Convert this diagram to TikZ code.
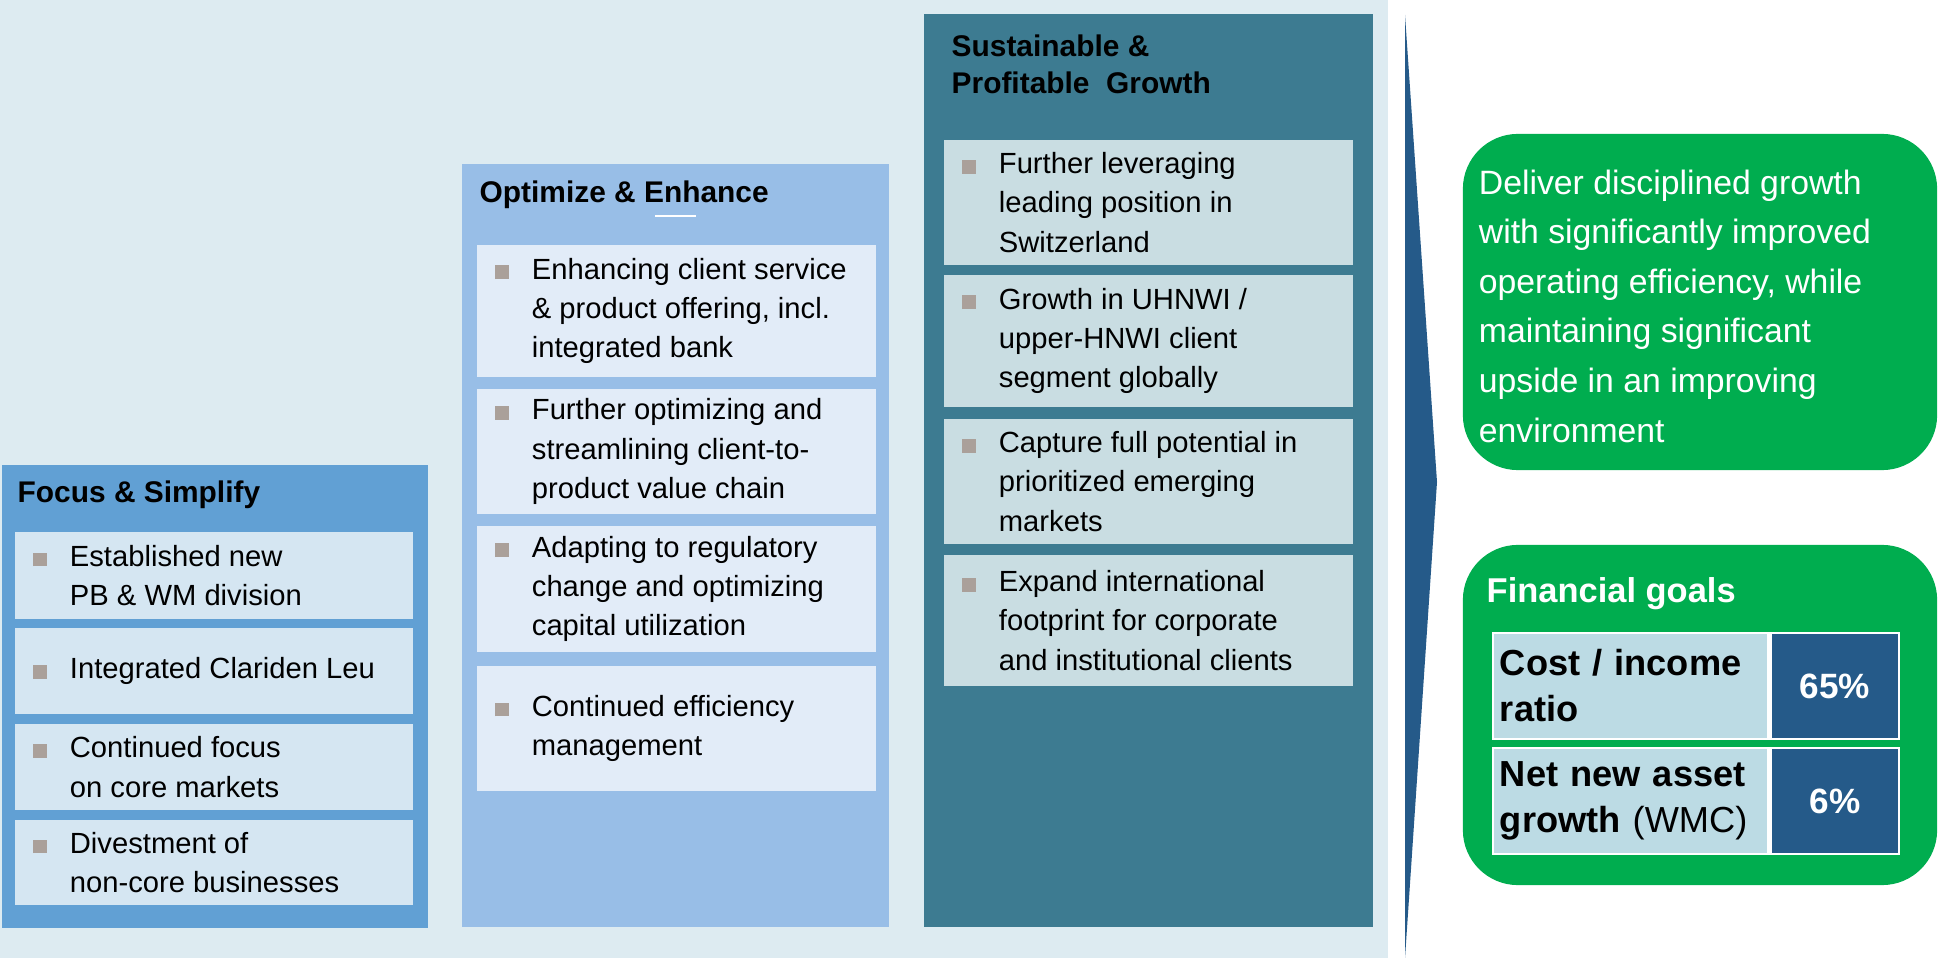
\documentclass[tikz,border=0pt]{standalone}
\usepackage{fontspec}
\setmainfont{Liberation Sans}
\usepackage{xcolor}
\usepackage{tikz}
\usetikzlibrary{positioning}
\definecolor{pagebg}{RGB}{221,235,241}
\definecolor{focusblue}{RGB}{97,160,212}
\definecolor{focusitem}{RGB}{213,230,242}
\definecolor{optblue}{RGB}{152,190,231}
\definecolor{optitem}{RGB}{226,236,248}
\definecolor{growthteal}{RGB}{61,123,145}
\definecolor{growthitem}{RGB}{201,221,226}
\definecolor{bulletgray}{RGB}{170,160,154}
\definecolor{wedgeblue}{RGB}{37,90,137}
\definecolor{goalgreen}{RGB}{0,173,79}
\definecolor{cellblue}{RGB}{188,219,228}
\newcommand{\sqbullet}{\llap{\textcolor{bulletgray}{\rule{0.47em}{0.47em}}\hspace{0.8em}}}

\begin{document}
\begin{tikzpicture}[
    x=0.01cm, y=-0.01cm,
    panel/.style={rectangle, inner sep=0pt},
    paneltitle/.style={inner sep=0pt, align=left, font=\fontsize{8.5}{10.6}\selectfont\bfseries},
    itembox/.style={rectangle, inner sep=0pt},
    itemtext/.style={inner sep=0pt, align=left, font=\fontsize{8.3}{11.2}\selectfont},
    goalbox/.style={rectangle, rounded corners=0.55cm, fill=goalgreen, minimum width=4.74cm, inner sep=0pt},
    goaltext/.style={inner sep=0pt, align=left, text=white, font=\fontsize{9.6}{14.1}\selectfont},
    namecell/.style={rectangle, draw=white, line width=0.8pt, fill=cellblue, minimum width=2.75cm, minimum height=1.06cm, inner xsep=0.07cm, text width=2.61cm, align=left, font=\fontsize{10.3}{13.1}\selectfont\bfseries},
    valuecell/.style={rectangle, draw=white, line width=0.8pt, fill=wedgeblue, minimum width=1.28cm, minimum height=1.06cm, text=white, font=\fontsize{10}{12}\selectfont\bfseries}
]
    \useasboundingbox (0,0) rectangle (1939,958);
    \fill[pagebg] (0,0) rectangle (1388,958);

    % Focus & Simplify
    \node[panel, fill=focusblue, minimum width=4.26cm, minimum height=4.62cm] (focus) at (215,696.5) {};
    \node[paneltitle, anchor=west] (focustitle) at (17,495) {Focus \& Simplify};
    \node[itembox, fill=focusitem, minimum width=3.98cm, minimum height=0.87cm] (fs1) at (214,575.5) {};
    \node[itembox, fill=focusitem, minimum width=3.98cm, minimum height=0.86cm] (fs2) at (214,671) {};
    \node[itembox, fill=focusitem, minimum width=3.98cm, minimum height=0.86cm] (fs3) at (214,767) {};
    \node[itembox, fill=focusitem, minimum width=3.98cm, minimum height=0.85cm] (fs4) at (214,862.5) {};
    \node[itemtext, right=0.55cm of fs1.west] (fs1txt) {\sqbullet Established new\\PB \& WM division};
    \node[itemtext, right=0.55cm of fs2.west] (fs2txt) {\sqbullet Integrated Clariden Leu};
    \node[itemtext, right=0.55cm of fs3.west] (fs3txt) {\sqbullet Continued focus\\on core markets};
    \node[itemtext, right=0.55cm of fs4.west] (fs4txt) {\sqbullet Divestment of\\non-core businesses};

    % Optimize & Enhance
    \node[panel, fill=optblue, minimum width=4.27cm, minimum height=7.63cm] (optimize) at (675.5,545.5) {};
    \node[paneltitle, anchor=west] (opttitle) at (479,195) {Optimize \& Enhance};
    \draw[white, line width=0.4pt] (655,216) -- (696,216);
    \node[itembox, fill=optitem, minimum width=3.99cm, minimum height=1.32cm] (oe1) at (676.5,311) {};
    \node[itembox, fill=optitem, minimum width=3.99cm, minimum height=1.25cm] (oe2) at (676.5,451.5) {};
    \node[itembox, fill=optitem, minimum width=3.99cm, minimum height=1.26cm] (oe3) at (676.5,589) {};
    \node[itembox, fill=optitem, minimum width=3.99cm, minimum height=1.25cm] (oe4) at (676.5,728.5) {};
    \node[itemtext, right=0.55cm of oe1.west] (oe1txt) {\sqbullet Enhancing client service\\\& product offering, incl.\\integrated bank};
    \node[itemtext, right=0.55cm of oe2.west] (oe2txt) {\sqbullet Further optimizing and\\streamlining client-to-\\product value chain};
    \node[itemtext, right=0.55cm of oe3.west] (oe3txt) {\sqbullet Adapting to regulatory\\change and optimizing\\capital utilization};
    \node[itemtext, right=0.55cm of oe4.west] (oe4txt) {\sqbullet Continued efficiency\\management};

    % Sustainable & Profitable Growth
    \node[panel, fill=growthteal, minimum width=4.49cm, minimum height=9.13cm] (growth) at (1148.5,470.5) {};
    \node[paneltitle, anchor=west] (growthtitle) at (951,64) {Sustainable \&\\Profitable\ \ Growth};
    \node[itembox, fill=growthitem, minimum width=4.09cm, minimum height=1.25cm] (sp1) at (1148.5,202.5) {};
    \node[itembox, fill=growthitem, minimum width=4.09cm, minimum height=1.32cm] (sp2) at (1148.5,341) {};
    \node[itembox, fill=growthitem, minimum width=4.09cm, minimum height=1.25cm] (sp3) at (1148.5,481.5) {};
    \node[itembox, fill=growthitem, minimum width=4.09cm, minimum height=1.31cm] (sp4) at (1148.5,620.5) {};
    \node[itemtext, right=0.55cm of sp1.west] (sp1txt) {\sqbullet Further leveraging\\leading position in\\Switzerland};
    \node[itemtext, right=0.55cm of sp2.west] (sp2txt) {\sqbullet Growth in UHNWI /\\upper-HNWI client\\segment globally};
    \node[itemtext, right=0.55cm of sp3.west] (sp3txt) {\sqbullet Capture full potential in\\prioritized emerging\\markets};
    \node[itemtext, right=0.55cm of sp4.west] (sp4txt) {\sqbullet Expand international\\footprint for corporate\\and institutional clients};

    % Wedge pointing to the goals
    \fill[wedgeblue] (1405,15) -- (1437,482) -- (1405,958) -- cycle;

    % Ambition
    \node[goalbox, minimum height=3.36cm] (ambition) at (1700,302) {};
    \node[goaltext, right=0.16cm of ambition.west, yshift=-0.04cm] (ambitiontxt) {Deliver disciplined growth\\with significantly improved\\operating efficiency, while\\maintaining significant\\upside in an improving\\environment};

    % Financial goals
    \node[goalbox, minimum height=3.40cm] (goals) at (1700,715) {};
    \node[goaltext, anchor=west, font=\fontsize{9.8}{12}\selectfont\bfseries] (goalstitle) at (1486,594) {Financial goals};
    \node[namecell] (costname) at (1630.5,686) {Cost / income\\ratio};
    \node[valuecell, right=0pt of costname] (costvalue) {65\%};
    \node[namecell] (nnaname) at (1630.5,801) {Net new asset\\growth \textmd{(WMC)}};
    \node[valuecell, right=0pt of nnaname] (nnavalue) {6\%};
\end{tikzpicture}
\end{document}
